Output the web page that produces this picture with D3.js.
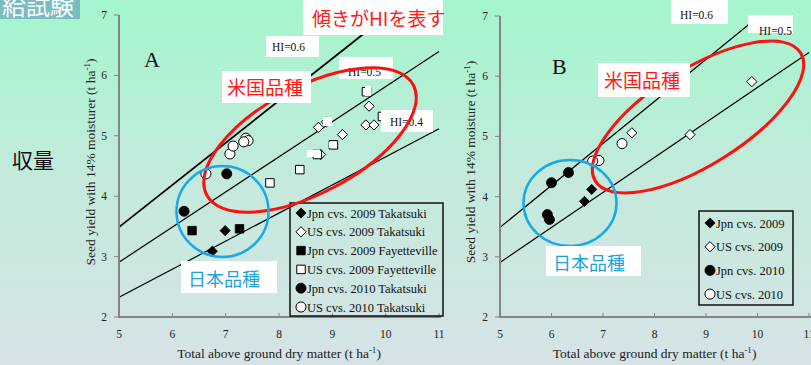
<!DOCTYPE html>
<html>
<head>
<meta charset="utf-8">
<script src="https://cdn.jsdelivr.net/npm/d3@7/dist/d3.min.js"></script>
<style>
  html, body { margin: 0; padding: 0; }
  svg { display: block; }
  .serif { font-family: "Liberation Serif", "DejaVu Serif", serif; }
  .jp { font-family: "Noto Sans CJK JP", "Noto Sans", sans-serif; }
</style>
</head>
<body>
<script>
// Harvest index reference lines (yield at 14% moisture = HI * DM / 0.86)
const hiA = [0.6, 0.5, 0.4];
const hiB = [0.6, 0.5];
const xTicks = [5, 6, 7, 8, 9, 10, 11];
const yTicks = [2, 3, 4, 5, 6, 7];

// Panel A series: [dry matter, seed yield]
const jpn09TakA = [[6.99, 3.43], [6.75, 3.09]];
const us09TakA = [[9.69, 5.49], [9.63, 5.18], [9.78, 5.18], [9.19, 5.02], [8.89, 5.23], [8.74, 5.14], [8.78, 4.69]];
const jpn09FayA = [[6.37, 3.43], [7.26, 3.46]];
const us09FayA = [[9.94, 5.32], [9.64, 5.73], [9.02, 4.85], [8.72, 4.69], [8.39, 4.44], [7.83, 4.22]];
const jpn10TakA = [[7.02, 4.37], [6.22, 3.75]];
const us10TakA = [[7.08, 4.70], [7.14, 4.83], [7.38, 4.96], [7.42, 4.92], [7.34, 4.90], [6.63, 4.37]];

// Panel B series
const jpn09B = [[6.64, 3.92], [6.78, 4.12]];
const us09B = [[9.89, 5.91], [8.69, 5.03], [7.56, 5.06]];
const jpn10B = [[6.00, 4.23], [6.33, 4.40], [5.92, 3.70], [5.96, 3.62]];
const us10B = [[7.37, 4.88], [6.92, 4.60], [6.80, 4.59]];

const legendA = ["Jpn cvs. 2009 Takatsuki", "US cvs. 2009 Takatsuki", "Jpn cvs. 2009 Fayetteville",
                 "US cvs. 2009 Fayetteville", "Jpn cvs. 2010 Takatsuki", "US cvs. 2010 Takatsuki"];
const legendB = ["Jpn cvs. 2009", "US cvs. 2009", "Jpn cvs. 2010", "US cvs. 2010"];

const W = 811, H = 365;
const svg = d3.select("body").append("svg").attr("width", W).attr("height", H);

const defs = svg.append("defs");
const grad = defs.append("linearGradient").attr("id", "bg").attr("x1", 0).attr("y1", 0).attr("x2", 0).attr("y2", 1);
grad.append("stop").attr("offset", "0%").attr("stop-color", "#a3f6cd");
grad.append("stop").attr("offset", "50%").attr("stop-color", "#c4eadc");
grad.append("stop").attr("offset", "100%").attr("stop-color", "#d6e3e6");
svg.append("rect").attr("width", W).attr("height", H).attr("fill", "url(#bg)");

// square-shaped diamond (a square turned 45 degrees)
const squareDiamond = {
  draw(ctx, size) {
    const r = Math.sqrt(size / 2);
    ctx.moveTo(0, -r); ctx.lineTo(r, 0); ctx.lineTo(0, r); ctx.lineTo(-r, 0); ctx.closePath();
  }
};
const shapes = {
  diamond: d3.symbol().type(squareDiamond).size(52),
  square: d3.symbol().type(d3.symbolSquare).size(72),
  circle: d3.symbol().type(d3.symbolCircle).size(80)
};

function marker(g, type, filled, x, y) {
  g.append("path").attr("d", shapes[type]()).attr("transform", `translate(${x},${y})`)
    .attr("fill", filled ? "#000" : "#fff").attr("stroke", "#000").attr("stroke-width", filled ? 0.8 : 1);
}

function panel(cfg) {
  const g = svg.append("g");
  const x = d3.scaleLinear().domain([5, 11]).range(cfg.xr);
  const y = d3.scaleLinear().domain([2, 7]).range(cfg.yr);

  // HI lines, clipped to the top of the plot
  cfg.hi.forEach(h => {
    const dmTop = Math.min(11, 7 * 0.86 / h);
    g.append("line").attr("x1", x(5)).attr("y1", y(h * 5 / 0.86))
      .attr("x2", x(dmTop)).attr("y2", y(h * dmTop / 0.86))
      .attr("stroke", "#000").attr("stroke-width", h === 0.6 && cfg.thick ? 1.8 : 1.2);
  });

  // axes
  const axisColor = "#858585";
  g.append("line").attr("x1", x(5)).attr("x2", x(5)).attr("y1", y(7)).attr("y2", y(2) + 1)
    .attr("stroke", axisColor).attr("stroke-width", 2);
  g.append("line").attr("x1", x(5) - 1).attr("x2", x(11) + 2).attr("y1", y(2)).attr("y2", y(2))
    .attr("stroke", axisColor).attr("stroke-width", 2);
  yTicks.forEach(t => {
    g.append("line").attr("x1", x(5) - 5).attr("x2", x(5)).attr("y1", y(t)).attr("y2", y(t))
      .attr("stroke", axisColor).attr("stroke-width", 1);
    g.append("text").attr("class", "serif").attr("x", x(5) - 15).attr("y", y(t) + 4)
      .attr("text-anchor", "middle").attr("font-size", 11.5).attr("fill", "#222").text(t);
  });
  xTicks.forEach(t => {
    if (t > 5) g.append("line").attr("x1", x(t)).attr("x2", x(t)).attr("y1", y(2)).attr("y2", y(2) - 4)
      .attr("stroke", axisColor).attr("stroke-width", 1);
    g.append("text").attr("class", "serif").attr("x", x(t)).attr("y", y(2) + 21)
      .attr("text-anchor", "middle").attr("font-size", 11.5).attr("fill", "#222").text(t);
  });

  // axis titles
  const xl = g.append("text").attr("class", "serif").attr("x", (x(5) + x(11)) / 2).attr("y", 358)
    .attr("text-anchor", "middle").attr("font-size", 13.5).attr("fill", "#222");
  xl.append("tspan").text("Total above ground dry matter (t ha");
  xl.append("tspan").attr("dy", -5).attr("font-size", 9).text("-1");
  xl.append("tspan").attr("dy", 5).text(")");
  const yl = g.append("text").attr("class", "serif")
    .attr("transform", `translate(${cfg.ylx},${cfg.yly}) rotate(-90)`)
    .attr("text-anchor", "middle").attr("font-size", 13.5).attr("fill", "#222");
  yl.append("tspan").text(cfg.ylab + " (t ha");
  yl.append("tspan").attr("dy", -5).attr("font-size", 9).text("-1");
  yl.append("tspan").attr("dy", 5).text(")");

  // panel letter
  g.append("text").attr("class", "serif").attr("x", cfg.letter[1]).attr("y", cfg.letter[2])
    .attr("font-size", 22).attr("fill", "#111").text(cfg.letter[0]);

  // points
  cfg.series.forEach(s => s.data.forEach(d => marker(g, s.type, s.filled, x(d[0]), y(d[1]))));

  // legend
  const L = cfg.legend;
  g.append("rect").attr("x", L.x).attr("y", L.y).attr("width", L.w).attr("height", L.h)
    .attr("fill", "none").attr("stroke", "#111").attr("stroke-width", 1.5);
  cfg.series.forEach((s, i) => {
    const ly = L.y + L.first + i * L.step;
    marker(g, s.type, s.filled, L.x + L.mx, ly);
    g.append("text").attr("class", "serif").attr("x", L.x + L.mx + 6).attr("y", ly + 4.5)
      .attr("font-size", L.fs).attr("fill", "#111").text(L.labels[i]);
  });
  return { g, x, y };
}

function whiteLabel(x0, y0, w, h, tx, ty, text, opts) {
  svg.append("rect").attr("x", x0).attr("y", y0).attr("width", w).attr("height", h).attr("fill", "#fff");
  svg.append("text").attr("class", opts.cls).attr("x", tx).attr("y", ty)
    .attr("font-size", opts.fs).attr("fill", opts.color).text(text);
}

const A = panel({
  xr: [119, 439], yr: [317, 15], hi: hiA, thick: true,
  ylab: "Seed yield with 14% moisturer", ylx: 95, yly: 162,
  letter: ["A", 144, 67],
  series: [
    { type: "diamond", filled: true, data: jpn09TakA },
    { type: "diamond", filled: false, data: us09TakA },
    { type: "square", filled: true, data: jpn09FayA },
    { type: "square", filled: false, data: us09FayA },
    { type: "circle", filled: true, data: jpn10TakA },
    { type: "circle", filled: false, data: us10TakA }
  ],
  legend: { x: 290, y: 203, w: 153, h: 113, first: 10, step: 18.8, mx: 11, fs: 12.5, labels: legendA }
});

const B = panel({
  xr: [500, 809], yr: [317, 16], hi: hiB, thick: false,
  ylab: "Seed yield with 14% moisture", ylx: 475, yly: 162,
  letter: ["B", 552, 74],
  series: [
    { type: "diamond", filled: true, data: jpn09B },
    { type: "diamond", filled: false, data: us09B },
    { type: "circle", filled: true, data: jpn10B },
    { type: "circle", filled: false, data: us10B }
  ],
  legend: { x: 699, y: 211, w: 94, h: 94, first: 12, step: 23.7, mx: 11, fs: 12.5, labels: legendB }
});

// white patches pasted over a few markers
[[307, 150, 13, 7], [329, 142, 8, 6], [365, 86, 6, 10], [323, 117, 9, 9]].forEach(r =>
  svg.append("rect").attr("x", r[0]).attr("y", r[1]).attr("width", r[2]).attr("height", r[3]).attr("fill", "#fff"));

// HI line labels
const hiLab = { cls: "serif", fs: 11.5, color: "#111" };
whiteLabel(266, 36, 53, 21, 272, 51, "HI=0.6", hiLab);
whiteLabel(339, 57, 54, 22, 348, 76, "HI=0.5", hiLab);
whiteLabel(381, 110, 52, 22, 390, 126, "HI=0.4", hiLab);
whiteLabel(671, 0, 57, 24, 680, 19, "HI=0.6", hiLab);
whiteLabel(748, 15, 45, 18, 759, 35, "HI=0.5", hiLab);

// hand-drawn style groupings
svg.append("ellipse").attr("cx", 310).attr("cy", 140).attr("rx", 117).attr("ry", 53)
  .attr("transform", "rotate(-28 310 140)").attr("fill", "none").attr("stroke", "#ff1010").attr("stroke-width", 3);
svg.append("ellipse").attr("cx", 698).attr("cy", 117).attr("rx", 121).attr("ry", 48)
  .attr("transform", "rotate(-32 698 117)").attr("fill", "none").attr("stroke", "#ff1010").attr("stroke-width", 3);
svg.append("ellipse").attr("cx", 222.5).attr("cy", 211.5).attr("rx", 46).attr("ry", 45.5)
  .attr("fill", "none").attr("stroke", "#19a9e6").attr("stroke-width", 2.5);
svg.append("ellipse").attr("cx", 570).attr("cy", 203).attr("rx", 46.5).attr("ry", 43)
  .attr("fill", "none").attr("stroke", "#19a9e6").attr("stroke-width", 2.5);

// Japanese annotations
const red = { cls: "jp", fs: 19, color: "#ff1a1a" };
const blue = { cls: "jp", fs: 18, color: "#1aa3e0" };
whiteLabel(303, 0, 140, 35, 312, 26, "傾きがHIを表す", red);
whiteLabel(222, 71, 89, 32, 227, 95, "米国品種", red);
whiteLabel(598, 63, 92, 34, 604, 88, "米国品種", red);
whiteLabel(181, 261, 96, 32, 188, 286, "日本品種", blue);
whiteLabel(546, 246, 95, 30, 553, 270, "日本品種", blue);

// slide fragments
svg.append("rect").attr("x", 0).attr("y", 0).attr("width", 80).attr("height", 19).attr("fill", "#7bbcc4");
svg.append("text").attr("class", "jp").attr("x", 2).attr("y", 15).attr("font-size", 24).attr("fill", "#fff").text("給試験");
svg.append("text").attr("class", "jp").attr("x", 12).attr("y", 168).attr("font-size", 21).attr("fill", "#111").text("収量");
</script>
</body>
</html>
